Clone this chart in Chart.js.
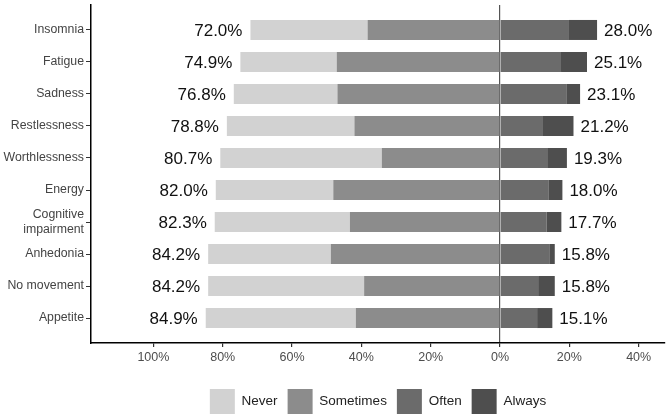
<!DOCTYPE html>
<html>
<head>
<meta charset="utf-8">
<script src="https://cdn.jsdelivr.net/npm/chart.js@4.4.0/dist/chart.umd.min.js"></script>
<style>
  html, body { margin: 0; padding: 0; background: #ffffff; }
  #wrap { width: 669px; height: 418px; position: relative; }
</style>
</head>
<body>
<div id="wrap"><canvas id="c"></canvas></div>
<script>
const categories = ['Insomnia', 'Fatigue', 'Sadness', 'Restlessness', 'Worthlessness', 'Energy', ['Cognitive', 'impairment'], 'Anhedonia', 'No movement', 'Appetite'];
const never     = [33.8, 27.8, 29.9, 36.8, 46.6, 33.9, 39.0, 35.4, 45.0, 43.3];
const sometimes = [38.2, 47.1, 46.9, 42.0, 34.1, 48.1, 43.3, 48.8, 39.2, 41.6];
const often     = [19.9, 17.6, 19.3, 12.4, 13.6, 14.1, 13.5, 14.4, 11.0, 10.7];
const always    = [8.1, 7.5, 3.8, 8.8, 5.7, 3.9, 4.2, 1.4, 4.8, 4.4];
const leftPct   = [72.0, 74.9, 76.8, 78.8, 80.7, 82.0, 82.3, 84.2, 84.2, 84.9];
const rightPct  = [28.0, 25.1, 23.1, 21.2, 19.3, 18.0, 17.7, 15.8, 15.8, 15.1];
const xTicks    = [-100, -80, -60, -40, -20, 0, 20, 40];
const seriesNames = ['Never', 'Sometimes', 'Often', 'Always'];

const FONT = "'Liberation Sans', Arial, Helvetica, sans-serif";

function pts(arr, sign) {
  return arr.map((v, i) => ({ x: sign * v, y: i }));
}

const legendRank = [1, 0, 2, 3];

const labelPlugin = {
  id: 'endLabels',
  afterDatasetsDraw(chart) {
    const ctx = chart.ctx;
    const xs = chart.scales.x, ys = chart.scales.y;
    ctx.save();
    ctx.font = '17px ' + FONT;
    ctx.fillStyle = '#111111';
    ctx.textBaseline = 'middle';
    for (let i = 0; i < categories.length; i++) {
      const y = ys.getPixelForValue(i);
      ctx.textAlign = 'right';
      ctx.fillText(leftPct[i].toFixed(1) + '%', xs.getPixelForValue(-leftPct[i]) - 8, y + 1);
      ctx.textAlign = 'left';
      ctx.fillText(rightPct[i].toFixed(1) + '%', xs.getPixelForValue(rightPct[i]) + 7, y + 1);
    }
    ctx.restore();
  }
};

const legendPlacement = {
  id: 'legendPlacement',
  beforeInit(chart) {
    const lg = chart.legend;
    const origFit = lg.fit;
    lg.fit = function () {
      origFit.call(this);
      this.height -= 6;
    };
  },
  afterLayout(chart) {
    const lg = chart.legend;
    lg.left = chart.chartArea.left;
    lg.width = lg.right - lg.left;
  }
};

new Chart(document.getElementById('c'), {
  type: 'bar',
  data: {
    datasets: [
      { label: seriesNames[1], data: pts(sometimes, -1), backgroundColor: '#8c8c8c' },
      { label: seriesNames[0], data: pts(never, -1), backgroundColor: '#d2d2d2' },
      { label: seriesNames[2], data: pts(often, 1), backgroundColor: '#6b6b6b' },
      { label: seriesNames[3], data: pts(always, 1), backgroundColor: '#4e4e4e' }
    ]
  },
  options: {
    indexAxis: 'y',
    responsive: true,
    maintainAspectRatio: false,
    animation: false,
    barPercentage: 0.625,
    categoryPercentage: 1.0,
    layout: { padding: { top: 5, right: 4, left: 0, bottom: 0 } },
    scales: {
      x: {
        type: 'linear',
        stacked: true,
        min: -118,
        max: 47.6,
        z: 1,
        afterBuildTicks(scale) { scale.ticks = xTicks.map(v => ({ value: v })); },
        afterFit(scale) { scale.height += 11; },
        border: { display: true, color: '#000000', width: 1.5 },
        grid: {
          color: (ctx) => (ctx.tick && ctx.tick.value === 0 ? '#555555' : 'rgba(0,0,0,0)'),
          lineWidth: 1.2,
          tickColor: '#333333',
          tickLength: 4,
          drawTicks: true
        },
        ticks: {
          font: { family: FONT, size: 12.5 },
          color: '#4d4d4d',
          padding: 3,
          callback: (v) => Math.abs(v) + '%'
        }
      },
      y: {
        type: 'linear',
        stacked: true,
        reverse: true,
        offset: false,
        min: -0.78,
        max: 9.78,
        afterBuildTicks(scale) { scale.ticks = categories.map((c, i) => ({ value: i })); },
        afterFit(scale) { scale.width = 91; scale.paddingTop = 0; scale.paddingBottom = 0; },
        border: { display: true, color: '#000000', width: 1.5 },
        grid: { offset: false, drawOnChartArea: false, drawTicks: true, tickLength: 5, color: '#333333' },
        ticks: {
          font: { family: FONT, size: 12.3 },
          color: '#444444',
          padding: 2,
          callback: (v) => categories[v]
        }
      }
    },
    plugins: {
      legend: {
        position: 'bottom',
        labels: {
          boxWidth: 25,
          boxHeight: 25,
          padding: 10,
          color: '#222222',
          font: { family: FONT, size: 13.5 },
          sort: (a, b) => legendRank[a.datasetIndex] - legendRank[b.datasetIndex]
        }
      },
      tooltip: { enabled: false }
    }
  },
  plugins: [labelPlugin, legendPlacement]
});
</script>
</body>
</html>
